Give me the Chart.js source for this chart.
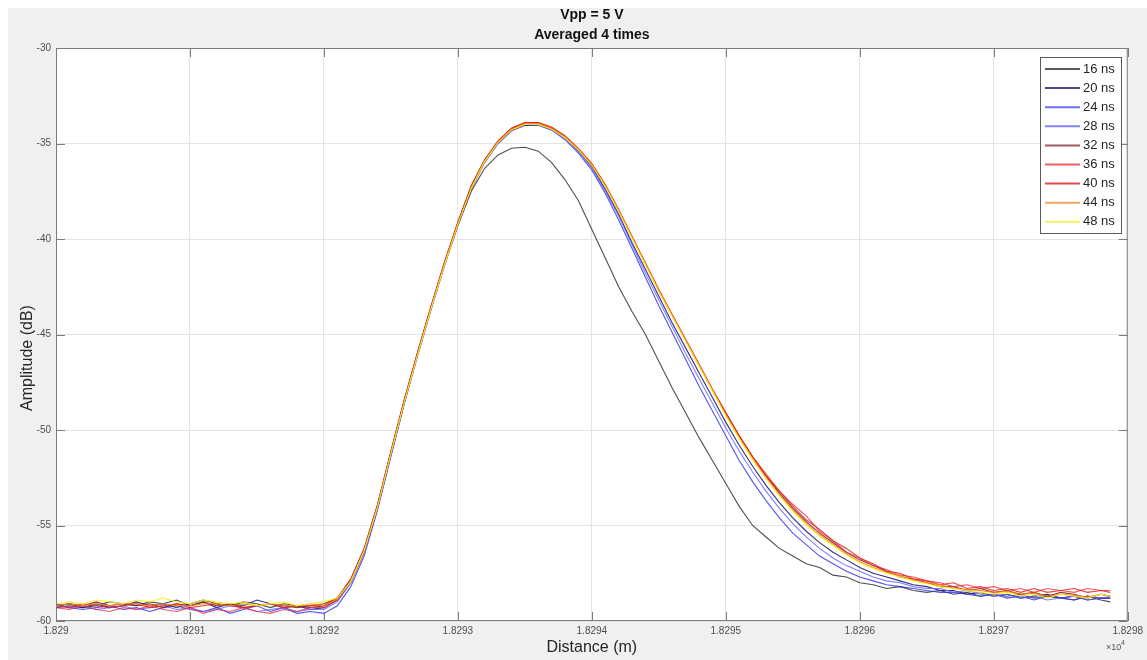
<!DOCTYPE html>
<html>
<head>
<meta charset="utf-8">
<script src="https://cdn.jsdelivr.net/npm/chart.js@4.4.1/dist/chart.umd.min.js"></script>
<style>
  html, body { margin: 0; padding: 0; background: #ffffff; }
  #wrap { width: 1147px; height: 660px; }
</style>
</head>
<body>
<div id="wrap"><canvas id="amp" width="1147" height="660"></canvas></div>
<script>
// distance in metres (the axis shows it in units of 1e4)
var distance = [
  18290.0, 18290.1, 18290.2, 18290.3, 18290.4, 18290.5, 18290.6, 18290.7, 18290.8, 18290.9,
  18291.0, 18291.1, 18291.2, 18291.3, 18291.4, 18291.5, 18291.6, 18291.7, 18291.8, 18291.9,
  18292.0, 18292.1, 18292.2, 18292.3, 18292.4, 18292.5, 18292.6, 18292.7, 18292.8, 18292.9,
  18293.0, 18293.1, 18293.2, 18293.3, 18293.4, 18293.5, 18293.6, 18293.7, 18293.8, 18293.9,
  18294.0, 18294.1, 18294.2, 18294.3, 18294.4, 18294.5, 18294.6, 18294.7, 18294.8, 18294.9,
  18295.0, 18295.1, 18295.2, 18295.3, 18295.4, 18295.5, 18295.6, 18295.7, 18295.8, 18295.9,
  18296.0, 18296.1, 18296.2, 18296.3, 18296.4, 18296.5, 18296.6, 18296.7, 18296.8, 18296.9,
  18297.0, 18297.1, 18297.2, 18297.3, 18297.4, 18297.5, 18297.6, 18297.7, 18297.8, 18297.87
];

var pulseWidths = ['16 ns', '20 ns', '24 ns', '28 ns', '32 ns', '36 ns', '40 ns', '44 ns', '48 ns'];

// amplitude (dB) per pulse width
var amp16 = [
  -59.2,-59.1,-59.3,-59.2,-59.0,-59.1,-59.2,-59.0,-59.1,-59.3,
  -59.1,-58.9,-59.1,-59.2,-59.0,-59.1,-59.3,-59.1,-59.2,-59.3,
  -59.2,-58.8,-57.9,-56.3,-54.0,-51.2,-48.5,-46.0,-43.6,-41.3,
  -39.3,-37.5,-36.3,-35.6,-35.25,-35.2,-35.4,-36.0,-36.9,-38.0,
  -39.5,-41.0,-42.5,-43.8,-45.0,-46.4,-47.8,-49.1,-50.4,-51.6,
  -52.8,-54.0,-55.0,-55.6,-56.2,-56.6,-57.0,-57.2,-57.6,-57.7,
  -58.0,-58.1,-58.3,-58.2,-58.4,-58.5,-58.4,-58.6,-58.5,-58.7,
  -58.6,-58.7,-58.6,-58.8,-58.7,-58.8,-58.9,-58.7,-58.9,-59.0
];
var amp20 = [
  -59.3,-59.2,-59.3,-59.1,-59.3,-59.2,-59.0,-59.2,-59.1,-58.9,
  -59.2,-59.0,-59.3,-59.1,-59.2,-58.9,-59.1,-59.3,-59.2,-59.4,
  -59.3,-58.9,-58.0,-56.4,-54.1,-51.3,-48.6,-46.0,-43.6,-41.3,
  -39.2,-37.3,-35.9,-34.95,-34.3,-34.05,-34.0,-34.25,-34.7,-35.4,
  -36.2,-37.4,-38.7,-40.2,-41.6,-43.0,-44.4,-45.7,-47.0,-48.3,
  -49.6,-50.8,-51.9,-52.9,-53.8,-54.6,-55.3,-55.9,-56.4,-56.8,
  -57.2,-57.5,-57.7,-57.9,-58.1,-58.2,-58.4,-58.4,-58.6,-58.5,
  -58.7,-58.6,-58.8,-58.7,-58.6,-58.8,-58.7,-58.9,-58.8,-58.8
];
var amp24 = [
  -59.1,-59.3,-59.4,-59.3,-59.2,-59.4,-59.3,-59.5,-59.3,-59.2,
  -59.4,-59.5,-59.3,-59.6,-59.4,-59.2,-59.5,-59.3,-59.6,-59.5,
  -59.6,-59.2,-58.2,-56.6,-54.2,-51.4,-48.6,-46.1,-43.7,-41.4,
  -39.3,-37.4,-36.0,-35.0,-34.35,-34.05,-34.05,-34.3,-34.8,-35.5,
  -36.4,-37.6,-39.0,-40.5,-42.0,-43.5,-44.9,-46.3,-47.7,-49.0,
  -50.3,-51.6,-52.7,-53.7,-54.6,-55.4,-56.0,-56.6,-57.0,-57.4,
  -57.7,-57.9,-58.1,-58.2,-58.3,-58.4,-58.5,-58.5,-58.6,-58.7,
  -58.6,-58.8,-58.7,-58.9,-58.7,-58.8,-58.9,-58.7,-58.8,-58.8
];
var amp28 = [
  -59.2,-59.3,-59.2,-59.4,-59.3,-59.2,-59.4,-59.3,-59.2,-59.4,
  -59.3,-59.5,-59.4,-59.2,-59.3,-59.5,-59.4,-59.3,-59.5,-59.4,
  -59.4,-59.0,-58.0,-56.4,-54.1,-51.3,-48.5,-46.0,-43.6,-41.3,
  -39.2,-37.3,-35.9,-34.9,-34.3,-34.0,-34.0,-34.25,-34.7,-35.4,
  -36.3,-37.5,-38.8,-40.3,-41.8,-43.2,-44.6,-46.0,-47.3,-48.6,
  -49.9,-51.1,-52.2,-53.2,-54.1,-54.9,-55.6,-56.2,-56.7,-57.1,
  -57.4,-57.7,-57.9,-58.0,-58.2,-58.3,-58.3,-58.5,-58.4,-58.6,
  -58.7,-58.6,-58.8,-58.7,-58.9,-58.8,-58.7,-58.9,-58.8,-58.7
];
var amp32 = [
  -59.2,-59.1,-59.2,-59.0,-59.2,-59.1,-59.2,-59.1,-59.3,-59.1,
  -59.2,-59.0,-59.2,-59.1,-59.3,-59.2,-59.1,-59.2,-59.3,-59.2,
  -59.1,-58.8,-57.8,-56.2,-53.9,-51.1,-48.4,-45.9,-43.5,-41.2,
  -39.1,-37.2,-35.85,-34.9,-34.25,-33.95,-33.95,-34.2,-34.65,-35.3,
  -36.1,-37.2,-38.5,-39.9,-41.3,-42.7,-44.0,-45.3,-46.6,-47.9,
  -49.1,-50.3,-51.4,-52.4,-53.3,-54.1,-54.8,-55.4,-55.9,-56.4,
  -56.8,-57.1,-57.4,-57.7,-57.8,-58.0,-58.2,-58.2,-58.4,-58.3,
  -58.5,-58.4,-58.6,-58.5,-58.7,-58.5,-58.6,-58.8,-58.6,-58.7
];
var amp36 = [
  -59.3,-59.4,-59.2,-59.4,-59.5,-59.3,-59.4,-59.2,-59.4,-59.5,
  -59.3,-59.6,-59.4,-59.5,-59.3,-59.5,-59.6,-59.4,-59.5,-59.3,
  -59.3,-58.9,-57.9,-56.3,-54.0,-51.2,-48.5,-46.0,-43.6,-41.3,
  -39.2,-37.3,-35.9,-34.9,-34.2,-33.9,-33.9,-34.15,-34.6,-35.3,
  -36.1,-37.2,-38.5,-39.9,-41.3,-42.7,-44.0,-45.3,-46.6,-47.9,
  -49.2,-50.3,-51.4,-52.3,-53.2,-53.9,-54.5,-55.3,-55.8,-56.4,
  -56.7,-57.1,-57.3,-57.6,-57.7,-57.9,-58.0,-58.2,-58.1,-58.3,
  -58.2,-58.4,-58.3,-58.5,-58.3,-58.4,-58.5,-58.3,-58.4,-58.4
];
var amp40 = [
  -59.2,-59.3,-59.1,-59.2,-59.3,-59.2,-59.1,-59.3,-59.2,-59.1,
  -59.3,-59.2,-59.1,-59.2,-59.3,-59.2,-59.1,-59.3,-59.2,-59.2,
  -59.2,-58.8,-57.85,-56.25,-53.95,-51.15,-48.45,-45.95,-43.55,-41.25,
  -39.15,-37.25,-35.85,-34.85,-34.2,-33.9,-33.9,-34.15,-34.6,-35.25,
  -36.05,-37.15,-38.45,-39.85,-41.25,-42.65,-43.95,-45.25,-46.55,-47.85,
  -49.1,-50.3,-51.4,-52.4,-53.2,-54.0,-54.7,-55.2,-55.8,-56.2,
  -56.7,-57.0,-57.4,-57.5,-57.8,-57.9,-58.1,-58.0,-58.3,-58.2,
  -58.4,-58.3,-58.5,-58.3,-58.5,-58.4,-58.3,-58.5,-58.4,-58.5
];
var amp44 = [
  -59.2,-59.1,-59.2,-59.1,-59.2,-59.1,-59.1,-59.2,-59.1,-59.2,
  -59.2,-59.1,-59.1,-59.2,-59.1,-59.2,-59.1,-59.2,-59.2,-59.1,
  -59.2,-58.85,-57.9,-56.3,-54.0,-51.2,-48.5,-46.0,-43.6,-41.3,
  -39.2,-37.3,-35.9,-34.9,-34.25,-33.95,-33.95,-34.2,-34.65,-35.3,
  -36.1,-37.2,-38.5,-39.9,-41.3,-42.7,-44.0,-45.3,-46.6,-47.9,
  -49.2,-50.4,-51.5,-52.5,-53.4,-54.2,-54.9,-55.5,-56.0,-56.5,
  -56.9,-57.2,-57.45,-57.65,-57.85,-58.0,-58.1,-58.3,-58.35,-58.4,
  -58.5,-58.45,-58.6,-58.55,-58.7,-58.6,-58.65,-58.75,-58.6,-58.7
];
var amp48 = [
  -59.1,-59.0,-59.1,-58.9,-59.0,-59.1,-58.9,-59.0,-58.8,-59.0,
  -59.1,-58.9,-59.0,-59.1,-59.0,-59.2,-59.1,-59.0,-59.2,-59.1,
  -59.0,-58.8,-57.95,-56.35,-54.05,-51.25,-48.55,-46.05,-43.65,-41.35,
  -39.25,-37.35,-35.95,-34.95,-34.3,-34.0,-34.0,-34.25,-34.7,-35.35,
  -36.15,-37.25,-38.55,-39.95,-41.35,-42.75,-44.05,-45.35,-46.65,-47.95,
  -49.25,-50.45,-51.55,-52.55,-53.45,-54.25,-54.95,-55.55,-56.05,-56.55,
  -56.95,-57.25,-57.5,-57.7,-57.9,-58.05,-58.2,-58.3,-58.4,-58.5,
  -58.6,-58.5,-58.7,-58.6,-58.8,-58.6,-58.7,-58.8,-58.6,-58.7
];

var amplitudes = [amp16, amp20, amp24, amp28, amp32, amp36, amp40, amp44, amp48];

// colours of the lines in the plot and in the legend box
var lineColors = [
  'rgba(60, 60, 60, 0.9)',
  'rgba(25, 25, 120, 0.9)',
  'rgba(40, 40, 235, 0.8)',
  'rgba(95, 95, 255, 0.8)',
  'rgba(130, 35, 35, 0.9)',
  'rgba(235, 45, 65, 0.8)',
  'rgba(230, 30, 30, 0.85)',
  'rgba(245, 125, 20, 0.95)',
  'rgba(250, 240, 20, 0.9)'
];
var legendColors = ['#5a5a5a', '#4a4a8c', '#6e6ef0', '#8282ff', '#9a5c5c', '#e86060', '#e04a4a', '#f2a466', '#f5f060'];

var titleLines = ['Vpp = 5 V', 'Averaged 4 times'];
var xTitle = 'Distance (m)';
var yTitle = 'Amplitude (dB)';

// axes look like a matlab figure: grey frame, inward ticks, boxed legend
var matlabLook = {
  id: 'matlabLook',
  beforeDraw: function(chart) {
    var ctx = chart.ctx, a = chart.chartArea;
    ctx.save();
    ctx.fillStyle = '#ffffff';
    ctx.fillRect(0, 0, chart.width, chart.height);
    ctx.fillStyle = '#f0f0f0';
    ctx.fillRect(8, 8, chart.width - 8, chart.height - 8);
    ctx.fillStyle = '#ffffff';
    ctx.fillRect(a.left, a.top, a.right - a.left, a.bottom - a.top);
    ctx.restore();
  },
  afterDraw: function(chart) {
    var ctx = chart.ctx, a = chart.chartArea;
    var xs = chart.scales.x, ys = chart.scales.y;
    ctx.save();

    // frame and ticks
    ctx.strokeStyle = '#7b7b7b';
    ctx.lineWidth = 1;
    ctx.strokeRect(a.left + 0.5, a.top + 0.5, a.right - a.left - 1, a.bottom - a.top - 1);
    ctx.beginPath();
    xs.ticks.forEach(function(t) {
      var px = Math.round(xs.getPixelForValue(t.value)) + 0.5;
      ctx.moveTo(px, a.bottom); ctx.lineTo(px, a.bottom - 9);
      ctx.moveTo(px, a.top); ctx.lineTo(px, a.top + 9);
    });
    ys.ticks.forEach(function(t) {
      var py = Math.round(ys.getPixelForValue(t.value)) + 0.5;
      ctx.moveTo(a.left, py); ctx.lineTo(a.left + 9, py);
      ctx.moveTo(a.right, py); ctx.lineTo(a.right - 9, py);
    });
    ctx.stroke();

    // title
    var cx = (a.left + a.right) / 2;
    ctx.fillStyle = '#111111';
    ctx.font = 'bold 14px "Liberation Sans", Arial, sans-serif';
    ctx.textAlign = 'center';
    ctx.textBaseline = 'middle';
    ctx.fillText(titleLines[0], cx, 15);
    ctx.fillText(titleLines[1], cx, 35);

    // axis titles
    ctx.fillStyle = '#262626';
    ctx.font = '16px "Liberation Sans", Arial, sans-serif';
    ctx.fillText(xTitle, cx, 648);
    ctx.save();
    ctx.translate(28, 358);
    ctx.rotate(-Math.PI / 2);
    ctx.fillText(yTitle, 0, 0);
    ctx.restore();

    // x10^4 exponent
    ctx.fillStyle = '#555555';
    ctx.textAlign = 'left';
    ctx.font = '9px "Liberation Sans", Arial, sans-serif';
    ctx.fillText('\u00d710', 1106, 648);
    ctx.font = '7px "Liberation Sans", Arial, sans-serif';
    ctx.fillText('4', 1121, 643);

    // legend
    var lx = 1040, ly = 57, lw = 81, lh = 176;
    ctx.fillStyle = '#ffffff';
    ctx.fillRect(lx, ly, lw, lh);
    ctx.strokeStyle = '#5a5a5a';
    ctx.strokeRect(lx + 0.5, ly + 0.5, lw, lh);
    ctx.font = '13px "Liberation Sans", Arial, sans-serif';
    ctx.textBaseline = 'middle';
    pulseWidths.forEach(function(name, i) {
      var y = 69 + i * 19.1;
      ctx.strokeStyle = legendColors[i];
      ctx.lineWidth = 2;
      ctx.beginPath();
      ctx.moveTo(1045, y);
      ctx.lineTo(1080, y);
      ctx.stroke();
      ctx.fillStyle = '#262626';
      ctx.fillText(name, 1083, y);
    });
    ctx.restore();
  }
};

var datasets = pulseWidths.map(function(name, i) {
  return {
    label: name,
    data: distance.map(function(d, k) { return { x: d, y: amplitudes[i][k] }; }),
    borderColor: lineColors[i],
    backgroundColor: lineColors[i],
    borderWidth: 1.1,
    pointRadius: 0,
    tension: 0,
    fill: false,
    order: pulseWidths.length - i   // later curves on top, like matlab
  };
});

var ctx = document.getElementById('amp').getContext('2d');
var ampChart = new Chart(ctx, {
  type: 'line',
  data: { datasets: datasets },
  options: {
    responsive: false,
    animation: false,
    layout: { padding: { top: 48, right: 19, bottom: 0, left: 0 } },
    plugins: {
      legend: { display: false },
      title: { display: false },
      tooltip: { enabled: false }
    },
    scales: {
      x: {
        type: 'linear',
        min: 18290,
        max: 18298,
        grid: { color: '#e4e4e4', drawTicks: false },
        border: { display: false },
        ticks: {
          stepSize: 1,
          padding: 4,
          color: '#4d4d4d',
          font: { size: 10, family: '"Liberation Sans", Arial, sans-serif' },
          maxRotation: 0,
          callback: function(v) { return parseFloat((v / 1e4).toFixed(4)).toString(); }
        },
        afterFit: function(s) { s.height = 39; }
      },
      y: {
        type: 'linear',
        min: -60,
        max: -30,
        grid: { color: '#e4e4e4', drawTicks: false },
        border: { display: false },
        ticks: {
          stepSize: 5,
          padding: 5,
          color: '#4d4d4d',
          font: { size: 10, family: '"Liberation Sans", Arial, sans-serif' },
          callback: function(v) { return v.toString(); }
        },
        afterFit: function(s) { s.width = 56; }
      }
    }
  },
  plugins: [matlabLook]
});
</script>
</body>
</html>
